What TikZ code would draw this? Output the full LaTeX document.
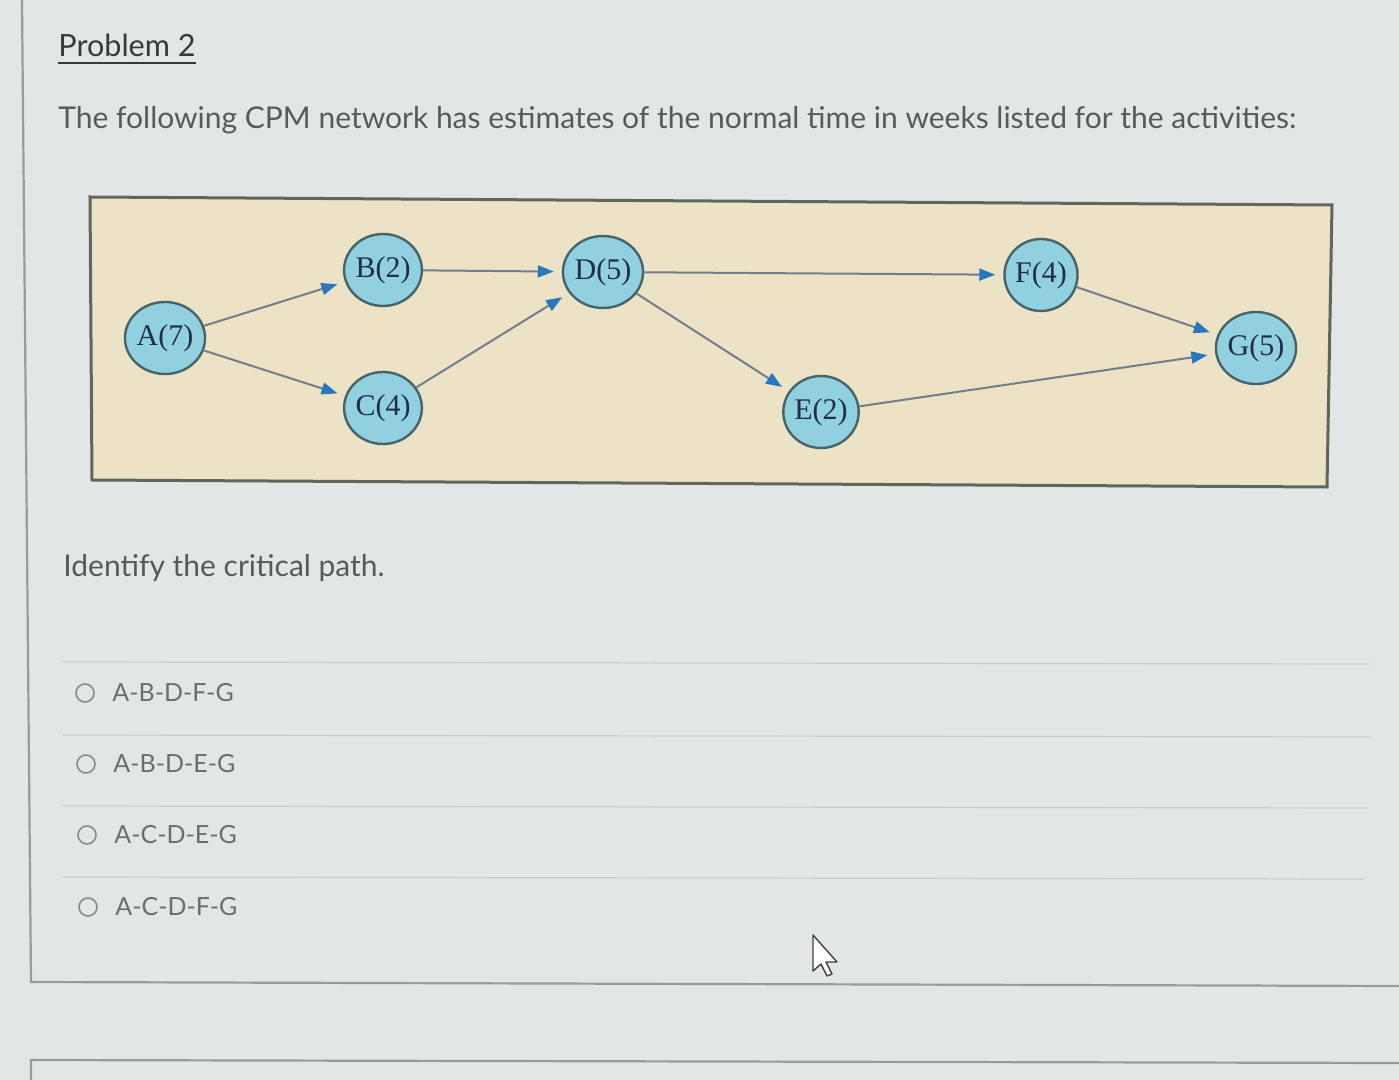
\documentclass[tikz,border=0pt]{standalone}
\usepackage{fontspec}
\setmainfont{Lato}
\newfontfamily\nodefont{Liberation Serif}
\usetikzlibrary{shapes.geometric,arrows.meta}
\definecolor{bg}{RGB}{226,230,231}
\definecolor{panelfill}{RGB}{236,226,198}
\definecolor{panelborder}{RGB}{95,102,92}
\definecolor{nodefill}{RGB}{145,208,222}
\definecolor{nodeborder}{RGB}{70,100,105}
\definecolor{nodetext}{RGB}{30,45,80}
\definecolor{edgegray}{RGB}{115,125,140}
\definecolor{tipblue}{RGB}{40,120,190}
\definecolor{framegray}{RGB}{150,155,158}
\definecolor{sepgray}{RGB}{200,204,206}
\definecolor{titletext}{RGB}{55,58,60}
\definecolor{bodytext}{RGB}{85,90,92}
\definecolor{opttext}{RGB}{105,110,112}
\begin{document}
\begin{tikzpicture}[x=0.5pt,y=-0.5pt,
  act/.style={ellipse, draw=nodeborder, line width=1.2pt, fill=nodefill,
    minimum width=34pt, minimum height=36pt, inner sep=0pt,
    font=\nodefont\fontsize{15}{15}\selectfont, text=nodetext},
  link/.style={draw=edgegray, line width=1pt,
    -{Triangle[length=8pt,width=6pt,color=tipblue]}, shorten >=4pt},
  bodyline/.style={anchor=base west, inner sep=0pt, text=bodytext,
    font=\fontsize{15}{18}\selectfont},
  opt/.style={anchor=base west, inner sep=0pt, text=opttext,
    font=\fontsize{12.5}{14}\selectfont},
  radio/.style={circle, draw=opttext!80, line width=0.8pt, minimum size=9pt, inner sep=0pt},
  sep/.style={draw=sepgray, line width=0.6pt}]
\useasboundingbox (0,0) rectangle (1399,1080);
\fill[bg] (0,0) rectangle (1399,1080);
% frames
\draw[framegray, line width=1.1pt] (22,0) -- (31,982) -- (1399,986);
\draw[framegray, line width=1.1pt] (31,1080) -- (31,1060) -- (1399,1063);
% title and question text
\node[anchor=base west, inner sep=0pt, text=titletext, font=\fontsize{15.3}{18}\selectfont] (title) at (58,57) {Problem 2};
\draw[titletext, line width=1pt] ([yshift=-3pt]title.base west) -- ([yshift=-3pt]title.base east);
\node[bodyline] (intro) at (58,129) {The following CPM network has estimates of the normal time in weeks listed for the activities:};
\node[bodyline] (ask) at (63,577) {Identify the critical path.};
% panel
\filldraw[fill=panelfill, draw=panelborder, line width=1.5pt] (90,197) -- (1332,205) -- (1327,487) -- (92,480) -- cycle;
% activities
\node[act] (A) at (165,338) {A(7)};
\node[act] (B) at (383,270) {B(2)};
\node[act] (C) at (383,408) {C(4)};
\node[act] (D) at (603,272) {D(5)};
\node[act] (E) at (821,412) {E(2)};
\node[act] (F) at (1041,275) {F(4)};
\node[act] (G) at (1256,348) {G(5)};
\draw[link] (A) -- (B);
\draw[link] (A) -- (C);
\draw[link] (B) -- (D);
\draw[link] (C) -- (D);
\draw[link] (D) -- (E);
\draw[link] (D) -- (F);
\draw[link] (F) -- (G);
\draw[link] (E) -- (G);
% separators and options
\draw[sep] (63,662) -- (1370,664);
\draw[sep] (63,735) -- (1370,737);
\draw[sep] (63,806) -- (1368,808);
\draw[sep] (63,877) -- (1365,879);
\node[radio] (r1) at (85,693) {};
\node[radio] (r2) at (86,764) {};
\node[radio] (r3) at (87,835) {};
\node[radio] (r4) at (88,907) {};
\node[opt] (o1) at (112,702) {A-B-D-F-G};
\node[opt] (o2) at (113,772) {A-B-D-E-G};
\node[opt] (o3) at (114,843) {A-C-D-E-G};
\node[opt] (o4) at (115,915) {A-C-D-F-G};
% mouse pointer
\draw[fill=white, draw=black!75, line width=0.7pt, line join=round]
  (813,935) -- (813,971) -- (821,964) -- (827,976) -- (832,974) -- (826,962) -- (837,962) -- cycle;
\end{tikzpicture}
\end{document}
